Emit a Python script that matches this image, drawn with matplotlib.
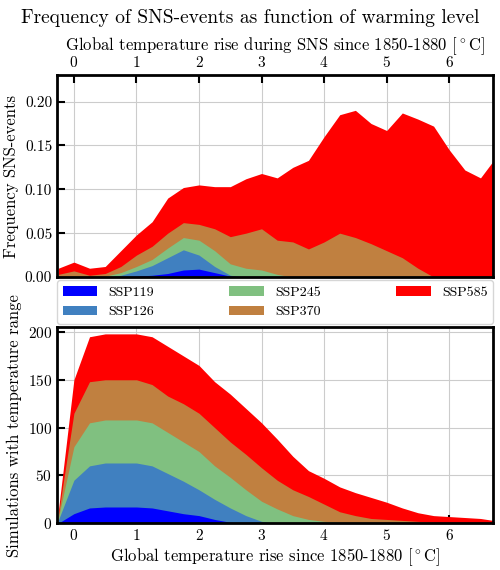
import matplotlib
matplotlib.use('Agg')
import matplotlib.pyplot as plt
import numpy as np

plt.rcParams['font.family'] = ['cmr10', 'DejaVu Serif']
plt.rcParams['axes.formatter.use_mathtext'] = True
plt.rcParams['mathtext.fontset'] = 'cm'

x = [-0.25,0,0.25,0.5,0.75,1,1.25,1.5,1.75,2,2.25,2.5,2.75,3,3.25,3.5,3.75,4,4.25,4.5,4.75,5,5.25,5.5,5.75,6,6.25,6.5,6.7]
labels = ['SSP119','SSP126','SSP245','SSP370','SSP585']
colors = ['#0000ff','#4080c0','#80c080','#c08040','#ff0000']

freq_585 = [0.01,0.017,0.01,0.012,0.03,0.048,0.063,0.09,0.102,0.105,0.103,0.103,0.112,0.118,0.113,0.125,0.133,0.16,0.185,0.19,0.175,0.167,0.187,0.18,0.172,0.145,0.122,0.113,0.132]
freq_370 = [0.003,0.007,0.002,0.004,0.012,0.025,0.035,0.05,0.062,0.06,0.055,0.046,0.05,0.055,0.042,0.04,0.032,0.04,0.05,0.045,0.038,0.03,0.022,0.01,0,0,0,0,0]
freq_245 = [0,0,0,0.001,0.005,0.012,0.02,0.033,0.045,0.042,0.03,0.015,0.01,0.008,0.003,0,0,0,0,0,0,0,0,0,0,0,0,0,0]
freq_126 = [0,0,0,0,0.002,0.007,0.013,0.022,0.031,0.025,0.012,0.002,0,0,0,0,0,0,0,0,0,0,0,0,0,0,0,0,0]
freq_119 = [0,0,0,0,0,0.001,0.002,0.004,0.008,0.009,0.005,0.001,0,0,0,0,0,0,0,0,0,0,0,0,0,0,0,0,0]

sim_585 = [12,150,195,198,198,198,195,185,175,165,148,135,120,105,88,70,55,47,38,32,27,22,16,11,8,7,6,5,3]
sim_370 = [8,115,148,150,150,150,145,133,125,115,100,85,72,58,45,35,28,20,12,8,5,4,3,2,1,0,0,0,0]
sim_245 = [5,80,105,108,108,108,105,95,85,75,60,48,35,23,15,8,4,2,1,0,0,0,0,0,0,0,0,0,0]
sim_126 = [3,45,60,63,63,63,60,52,44,35,25,16,8,2,0,0,0,0,0,0,0,0,0,0,0,0,0,0,0]
sim_119 = [0,10,16,17,17,17,16,13,10,8,4,1,0,0,0,0,0,0,0,0,0,0,0,0,0,0,0,0,0]

freqs = [freq_119,freq_126,freq_245,freq_370,freq_585]
sims = [sim_119,sim_126,sim_245,sim_370,sim_585]

fig = plt.figure(figsize=(5,5.7), dpi=100)
ax1 = fig.add_axes([0.114,0.514,0.872,0.354])
ax2 = fig.add_axes([0.114,0.082,0.872,0.344])

for ax in (ax1, ax2):
    ax.set_axisbelow(True)
    ax.grid(True, color='#cccccc', lw=0.8)
    ax.set_xlim(-0.27, 6.7)
    ax.set_xticks(range(7))
    ax.tick_params(direction='in', length=6, width=1.5, labelsize=11)
    for s in ax.spines.values():
        s.set_linewidth(2)

for vals, c, l in zip(freqs[::-1], colors[::-1], labels[::-1]):
    ax1.fill_between(x, 0, vals, color=c, lw=0, label=l)
for vals, c, l in zip(sims[::-1], colors[::-1], labels[::-1]):
    ax2.fill_between(x, 0, vals, color=c, lw=0)

ax1.set_ylim(0, 0.23)
ax1.set_yticks([0,0.05,0.10,0.15,0.20])
ax1.set_yticklabels(['0.00','0.05','0.10','0.15','0.20'])
ax1.xaxis.tick_top()
ax1.xaxis.set_label_position('top')
ax1.tick_params(axis='x', bottom=True, top=True)
ax1.set_xlabel(r'Global temperature rise during SNS since 1850-1880 [$^\circ$C]', fontsize=12)
ax1.set_ylabel('Frequency SNS-events', fontsize=12)

ax2.set_ylim(0, 205)
ax2.set_yticks([0,50,100,150,200])
ax2.set_xlabel(r'Global temperature rise since 1850-1880 [$^\circ$C]', fontsize=12, labelpad=2)
ax2.set_ylabel('Simulations with temperature range', fontsize=12)

h, l = ax1.get_legend_handles_labels()
order = [4,3,2,1,0]
h = [h[i] for i in order]; l = [l[i] for i in order]
leg = fig.legend(h, l, loc='center', ncol=3, fontsize=10,
           frameon=True, mode='expand',
           borderaxespad=0, handlelength=2.5,
           bbox_to_anchor=(0.114, 0.437, 0.872, 0.066), bbox_transform=fig.transFigure)

fig.suptitle('Frequency of SNS-events as function of warming level', fontsize=14, y=0.985)
fig.savefig('out.png', dpi=100)
